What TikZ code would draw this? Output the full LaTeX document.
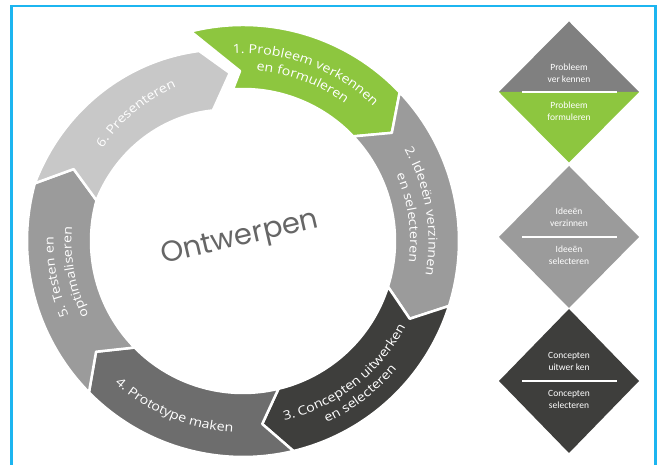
\documentclass[tikz,border=0pt]{standalone}
\usepackage{fontspec}
\setmainfont{Open Sans}
\newfontfamily\ringfont[FakeStretch=1.14]{Open Sans}
\newfontfamily\diafont{Carlito}
\newfontfamily\handfont{Poppins}
\usetikzlibrary{decorations.text}
\definecolor{grn}{HTML}{8DC63F}
\definecolor{gmid}{HTML}{9B9B9B}
\definecolor{gdark}{HTML}{3E3E3C}
\definecolor{gdim}{HTML}{6D6D6D}
\definecolor{glight}{HTML}{C8C8C8}
\definecolor{gtop}{HTML}{808080}
\definecolor{frameblue}{HTML}{1CB5F0}
\definecolor{handgray}{HTML}{666666}
\newcommand\Ro{216pt}
\newcommand\Ri{152pt}
\newcommand\Rm{184pt}
% colour, tail angle, head angle
\newcommand\ringseg[3]{%
  \path[segstyle, fill=#1] (#2:\Ro) arc[start angle=#2, end angle=#3, radius=\Ro]
    -- ({#3-7.5}:\Rm) -- (#3:\Ri) arc[start angle=#3, end angle=#2, radius=\Ri]
    -- ({#2-7.5}:\Rm) -- cycle;}
% start angle, end angle, radius, text (centred on the arc)
\newcommand\ringtext[4]{%
  \path[decorate, decoration={text along path, text align=center, text color=white,
    text={|\ringfont\fontsize{12.5}{12.5}\selectfont|#4}}]
    (#1:#3pt) arc[start angle=#1, end angle=#2, radius=#3pt];}
\tikzset{
  segstyle/.style={draw=white, line width=2.5pt, line join=round},
  diatext/.style={font=\diafont\fontsize{9.5}{12}\selectfont, text=white, align=center, inner sep=0pt},
  sepline/.style={draw=white, line width=1.3pt}
}
\begin{document}
\begin{tikzpicture}[x=1pt,y=1pt]
\useasboundingbox (0,0) rectangle (659,465);
\fill[white] (0,0) rectangle (659,465);
% ring
\begin{scope}[shift={(243,224)}]
  % 1 green
  \path[segstyle, fill=grn] (104:\Ro) arc[start angle=104, end angle=43.5, radius=\Ro]
    -- (36:\Rm) -- (43.5:\Ri) arc[start angle=43.5, end angle=93.8, radius=\Ri]
    -- (91:170pt) -- cycle;
  \ringseg{gmid}{43.5}{-17.5}
  \ringseg{gdark}{-17.5}{-76.5}
  \ringseg{gdim}{-76.5}{-135.5}
  \ringseg{gmid}{-135.5}{-195.5}
  % 6 spiral segment
  \path[segstyle, fill=glight]
    plot[domain=164.5:103, samples=40] (\x:{216-(164.5-\x)*0.3415})
    -- (94.5:168.5pt)
    -- plot[domain=103:164.5, samples=40] (\x:{152-(164.5-\x)*0.2927})
    -- (157:\Rm) -- cycle;
  % texts
  \ringtext{109.5}{29.5}{187.5}{1. Probleem verkennen}
  \ringtext{109.5}{29.5}{171}{en formuleren}
  \ringtext{49.5}{-30.5}{185.5}{2. Ideeën verzinnen}
  \ringtext{48}{-32}{167}{en selecteren}
  \ringtext{-92.5}{-12.5}{184}{3. Concepten uitwerken}
  \ringtext{-92.5}{-12.5}{200}{en selecteren}
  \ringtext{-152.5}{-72.5}{191.5}{4. Prototype maken}
  \ringtext{231}{151}{189.5}{5. Testen en}
  \ringtext{230.5}{150.5}{171.5}{optimaliseren}
  \ringtext{170}{90}{168}{6. Presenteren}
\end{scope}
\node[font=\handfont\fontsize{29}{29}\selectfont, text=handgray, rotate=13] (ont) at (240,226) {Ontwerpen};
% diamonds
\fill[gtop] (499,373) -- (569,443.5) -- (639,373) -- cycle;
\fill[grn] (499,373) -- (569,302.5) -- (639,373) -- cycle;
\draw[sepline] (522,373) -- (617,373);
\node[diatext] (d1a) at (569,392) {Probleem\\ver kennen};
\node[diatext] (d1b) at (569,354) {Probleem\\formuleren};
\fill[gmid] (569,299) -- (639,228) -- (569,157) -- (499,228) -- cycle;
\draw[sepline] (522,228) -- (617,228);
\node[diatext] (d2a) at (569,248) {Ideeën\\verzinnen};
\node[diatext] (d2b) at (569,210) {Ideeën\\selecteren};
\fill[gdark] (569,156) -- (639,84) -- (569,12) -- (499,84) -- cycle;
\draw[sepline] (522,84) -- (617,84);
\node[diatext] (d3a) at (569,104) {Concepten\\uitwer ken};
\node[diatext] (d3b) at (569,66) {Concepten\\selecteren};
% frame
\draw[frameblue, line width=2.5pt] (11.5,-5) -- (11.5,459) -- (655.5,459) -- (655.5,-5);
\end{tikzpicture}
\end{document}
